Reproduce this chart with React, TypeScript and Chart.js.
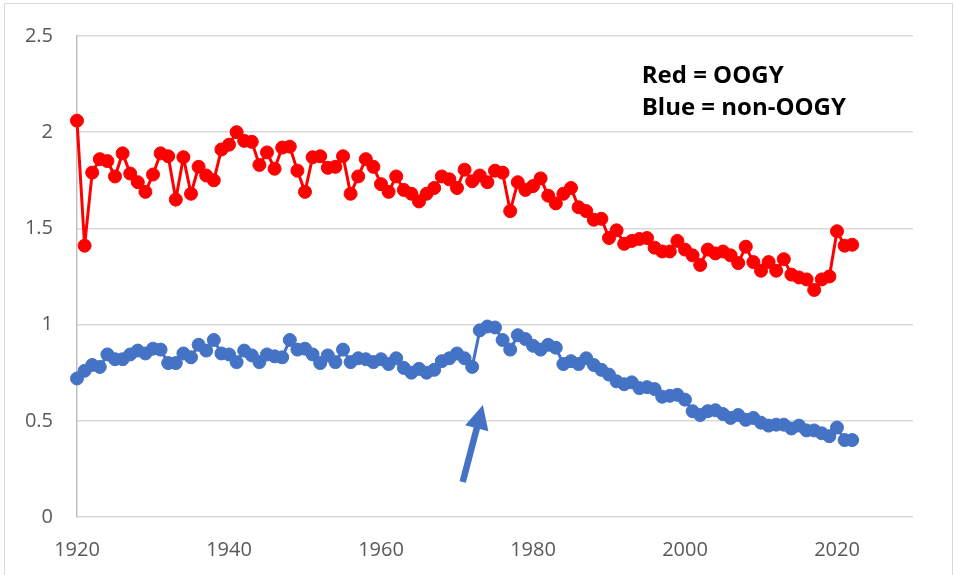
import React, { useEffect, useRef } from "react";
import { Chart, registerables } from "chart.js";

Chart.register(...registerables);

const FIRST_YEAR = 1920;

const RED_OOGY = [
  2.06, 1.41, 1.79, 1.86, 1.85, 1.77, 1.89, 1.785, 1.74, 1.69,
  1.78, 1.89, 1.875, 1.65, 1.87, 1.68, 1.82, 1.775, 1.75, 1.91,
  1.935, 2.0, 1.955, 1.95, 1.83, 1.895, 1.81, 1.92, 1.925, 1.8,
  1.69, 1.87, 1.875, 1.815, 1.82, 1.875, 1.68, 1.77, 1.86, 1.82,
  1.73, 1.69, 1.77, 1.7, 1.68, 1.64, 1.68, 1.71, 1.77, 1.755,
  1.71, 1.805, 1.745, 1.775, 1.74, 1.8, 1.79, 1.59, 1.74, 1.7,
  1.72, 1.76, 1.67, 1.63, 1.68, 1.71, 1.61, 1.59, 1.545, 1.55,
  1.45, 1.49, 1.42, 1.435, 1.445, 1.45, 1.4, 1.38, 1.38, 1.435,
  1.39, 1.36, 1.31, 1.39, 1.37, 1.38, 1.36, 1.32, 1.405, 1.325,
  1.28, 1.325, 1.28, 1.34, 1.26, 1.245, 1.235, 1.18, 1.235, 1.25,
  1.485, 1.41, 1.415,
];

const BLUE_NON_OOGY = [
  0.72, 0.76, 0.79, 0.78, 0.845, 0.82, 0.82, 0.845, 0.865, 0.85,
  0.875, 0.87, 0.8, 0.8, 0.85, 0.83, 0.895, 0.865, 0.92, 0.85,
  0.845, 0.805, 0.865, 0.84, 0.805, 0.845, 0.835, 0.83, 0.92, 0.87,
  0.875, 0.845, 0.8, 0.84, 0.805, 0.87, 0.805, 0.825, 0.82, 0.805,
  0.82, 0.795, 0.825, 0.775, 0.75, 0.77, 0.75, 0.765, 0.81, 0.825,
  0.85, 0.825, 0.78, 0.97, 0.99, 0.985, 0.92, 0.87, 0.945, 0.925,
  0.89, 0.87, 0.895, 0.88, 0.795, 0.81, 0.795, 0.825, 0.79, 0.765,
  0.74, 0.705, 0.69, 0.7, 0.67, 0.675, 0.665, 0.625, 0.63, 0.635,
  0.61, 0.55, 0.53, 0.55, 0.555, 0.535, 0.515, 0.53, 0.505, 0.515,
  0.49, 0.475, 0.48, 0.48, 0.46, 0.475, 0.45, 0.45, 0.435, 0.42,
  0.465, 0.4, 0.4,
];

const YEARS = RED_OOGY.map((_, i) => FIRST_YEAR + i);

const X_MIN = 1920;
const X_MAX = 2030;
const X_STEP = 20;
const Y_MIN = 0;
const Y_MAX = 2.5;
const Y_STEP = 0.5;

const NOTE_LINES = ["Red = OOGY", "Blue = non-OOGY"];
const NOTE_X = 1994.3;
const NOTE_Y = [2.289, 2.124];

const ARROW_TAIL = { x: 1970.75, y: 0.182 };
const ARROW_TIP = { x: 1973.4, y: 0.582 };

const RED = "#FF0000";
const BLUE = "#4472C4";
const FONT = "'Open Sans', 'Liberation Sans', sans-serif";

const annotationPlugin = {
  id: "notes",
  afterDatasetsDraw(chart: any) {
    const ctx = chart.ctx;
    const xs = chart.scales.x;
    const ys = chart.scales.y;
    ctx.save();
    ctx.fillStyle = "#000000";
    ctx.font = `bold 24px ${FONT}`;
    ctx.textAlign = "left";
    ctx.textBaseline = "middle";
    NOTE_LINES.forEach((t, i) => {
      ctx.fillText(t, xs.getPixelForValue(NOTE_X), ys.getPixelForValue(NOTE_Y[i]));
    });
    const x0 = xs.getPixelForValue(ARROW_TAIL.x);
    const y0 = ys.getPixelForValue(ARROW_TAIL.y);
    const x1 = xs.getPixelForValue(ARROW_TIP.x);
    const y1 = ys.getPixelForValue(ARROW_TIP.y);
    const ang = Math.atan2(y1 - y0, x1 - x0);
    const headLen = 24;
    const headHalf = 12;
    const bx = x1 - headLen * Math.cos(ang);
    const by = y1 - headLen * Math.sin(ang);
    ctx.strokeStyle = BLUE;
    ctx.fillStyle = BLUE;
    ctx.lineWidth = 6.5;
    ctx.beginPath();
    ctx.moveTo(x0, y0);
    ctx.lineTo(bx + 2 * Math.cos(ang), by + 2 * Math.sin(ang));
    ctx.stroke();
    const px = -Math.sin(ang);
    const py = Math.cos(ang);
    ctx.beginPath();
    ctx.moveTo(x1, y1);
    ctx.lineTo(bx + px * headHalf, by + py * headHalf);
    ctx.lineTo(bx - px * headHalf, by - py * headHalf);
    ctx.closePath();
    ctx.fill();
    ctx.restore();
  },
};

export default function App() {
  const ref = useRef<HTMLCanvasElement | null>(null);

  useEffect(() => {
    if (!ref.current) return;
    const chart = new Chart(ref.current, {
      type: "line",
      data: {
        datasets: [
          {
            label: "OOGY",
            data: YEARS.map((y, i) => ({ x: y, y: RED_OOGY[i] })),
            borderColor: RED,
            backgroundColor: RED,
            borderWidth: 3,
            pointRadius: 6.5,
            pointBorderWidth: 1,
            pointBorderColor: RED,
            pointBackgroundColor: RED,
            tension: 0,
            clip: false,
          },
          {
            label: "non-OOGY",
            data: YEARS.map((y, i) => ({ x: y, y: BLUE_NON_OOGY[i] })),
            borderColor: BLUE,
            backgroundColor: BLUE,
            borderWidth: 3,
            pointRadius: 6.5,
            pointBorderWidth: 1,
            pointBorderColor: BLUE,
            pointBackgroundColor: BLUE,
            tension: 0,
            clip: false,
          },
        ],
      },
      options: {
        responsive: false,
        animation: false,
        layout: { padding: { left: 0, right: 41, top: 26, bottom: 0 } },
        plugins: {
          legend: { display: false },
          tooltip: { enabled: false },
        },
        scales: {
          x: {
            type: "linear",
            min: X_MIN,
            max: X_MAX,
            afterFit: (s: any) => {
              s.height = 58;
            },
            ticks: {
              stepSize: X_STEP,
              color: "#595959",
              font: { family: FONT, size: 20 },
              padding: 21,
              maxRotation: 0,
              callback: (v: any) => (v === X_MAX ? "" : String(v)),
            },
            grid: { display: false, drawTicks: false },
            border: { display: false },
          },
          y: {
            min: Y_MIN,
            max: Y_MAX,
            afterFit: (s: any) => {
              s.width = 77;
            },
            ticks: {
              stepSize: Y_STEP,
              color: "#595959",
              font: { family: FONT, size: 20 },
              padding: 24,
              callback: (v: any) => String(v),
            },
            grid: { color: "#d9d9d9", lineWidth: 1.5, drawTicks: false },
            border: { display: true, color: "#bfbfbf", width: 1.5 },
          },
        },
      },
      plugins: [annotationPlugin],
    } as any);
    return () => chart.destroy();
  }, []);

  return (
    <div style={{ position: "absolute", left: 0, top: 0, width: 954, height: 575, background: "#fff" }}>
      <div
        style={{
          position: "absolute",
          left: 4,
          top: 3,
          right: 1,
          bottom: -2,
          borderLeft: "1px solid #d9d9d9",
          borderTop: "1px solid #d9d9d9",
          borderRight: "1px solid #d9d9d9",
        }}
      />
      <canvas ref={ref} width={954} height={575} style={{ position: "absolute", left: 0, top: 0 }} />
    </div>
  );
}
